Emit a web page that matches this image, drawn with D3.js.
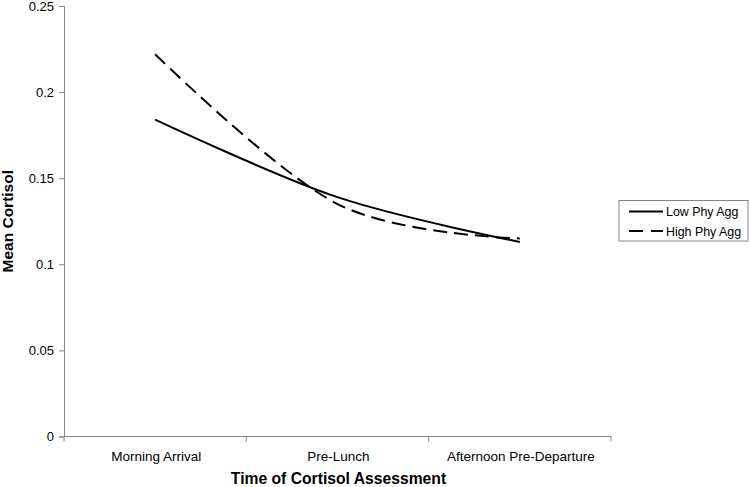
<!DOCTYPE html>
<html>
<head>
<meta charset="utf-8">
<script src="https://cdn.jsdelivr.net/npm/d3@7"></script>
<style>
  body { margin: 0; background: #fff; }
  text { font-family: "Liberation Sans", Arial, sans-serif; fill: #000; }
</style>
</head>
<body>
<div id="chart"></div>
<script>
const categories = ["Morning Arrival", "Pre-Lunch", "Afternoon Pre-Departure"];
const lowPhyAgg = [0.184, 0.139, 0.113];
const highPhyAgg = [0.222, 0.135, 0.115];
const yTicks = [0, 0.05, 0.1, 0.15, 0.2, 0.25];
const seriesNames = ["Low Phy Agg", "High Phy Agg"];

const series = [
  { name: seriesNames[0], values: lowPhyAgg, dash: null },
  { name: seriesNames[1], values: highPhyAgg, dash: "14,7" },
];

const W = 750, H = 487;
const margin = { top: 6, right: 139, bottom: 50.5, left: 64 };
const width = W - margin.left - margin.right;
const height = H - margin.top - margin.bottom;

const svg = d3.select("#chart")
  .append("svg")
  .attr("width", W)
  .attr("height", H);

const g = svg.append("g")
  .attr("transform", `translate(${margin.left}, ${margin.top})`);

const x = d3.scaleBand()
  .domain(categories)
  .range([0, width]);

const y = d3.scaleLinear()
  .domain([0, 0.25])
  .range([height, 0]);

// y axis
const yAxis = g.append("g")
  .call(d3.axisLeft(y).tickValues(yTicks).tickFormat(d => String(d)).tickSize(5).tickPadding(5));
yAxis.select(".domain").attr("stroke", "#868686");
yAxis.selectAll(".tick line").attr("stroke", "#868686");
yAxis.selectAll("text").style("font-size", "13px").style("font-family", "Liberation Sans, Arial, sans-serif");

// x axis: ticks at category boundaries
const xAxisG = g.append("g").attr("transform", `translate(0, ${height})`);
xAxisG.append("line")
  .attr("x1", 0).attr("x2", width)
  .attr("stroke", "#868686");
const bounds = [0, ...categories.map(c => x(c) + x.bandwidth())];
xAxisG.selectAll(".xtick").data(bounds).enter()
  .append("line")
  .attr("class", "xtick")
  .attr("x1", d => d).attr("x2", d => d)
  .attr("y1", 0).attr("y2", 5)
  .attr("stroke", "#868686");
xAxisG.selectAll(".xlabel").data(categories).enter()
  .append("text")
  .attr("class", "xlabel")
  .attr("x", d => x(d) + x.bandwidth() / 2 + 1)
  .attr("y", 24)
  .attr("text-anchor", "middle")
  .style("font-size", "13.5px")
  .text(d => d);

// axis titles
svg.append("text")
  .attr("x", margin.left + width / 2 + 1)
  .attr("y", 484)
  .attr("text-anchor", "middle")
  .style("font-size", "15.7px")
  .style("font-weight", "bold")
  .text("Time of Cortisol Assessment");

svg.append("text")
  .attr("transform", `translate(13, ${margin.top + height / 2}) rotate(-90)`)
  .attr("text-anchor", "middle")
  .style("font-size", "15.5px")
  .style("font-weight", "bold")
  .text("Mean Cortisol");

// lines
const line = d3.line()
  .x((d, i) => x(categories[i]) + x.bandwidth() / 2)
  .y(d => y(d))
  .curve(d3.curveCatmullRom.alpha(0));

g.selectAll(".series").data(series).enter()
  .append("path")
  .attr("class", "series")
  .attr("d", d => line(d.values))
  .attr("fill", "none")
  .attr("stroke", "#000")
  .attr("stroke-width", 2)
  .attr("stroke-dasharray", d => d.dash);

// legend
const legend = svg.append("g").attr("transform", "translate(619, 200.5)");
legend.append("rect")
  .attr("width", 129).attr("height", 40.5)
  .attr("fill", "#fff")
  .attr("stroke", "#868686");
const items = legend.selectAll(".item").data(series).enter()
  .append("g")
  .attr("class", "item")
  .attr("transform", (d, i) => `translate(10, ${11 + i * 19.5})`);
items.append("line")
  .attr("x1", 0).attr("x2", 34)
  .attr("stroke", "#000")
  .attr("stroke-width", 2)
  .attr("stroke-dasharray", d => d.dash ? "14,8" : null);
items.append("text")
  .attr("x", 37)
  .attr("y", 4.5)
  .style("font-size", "12.4px")
  .text(d => d.name);
</script>
</body>
</html>
